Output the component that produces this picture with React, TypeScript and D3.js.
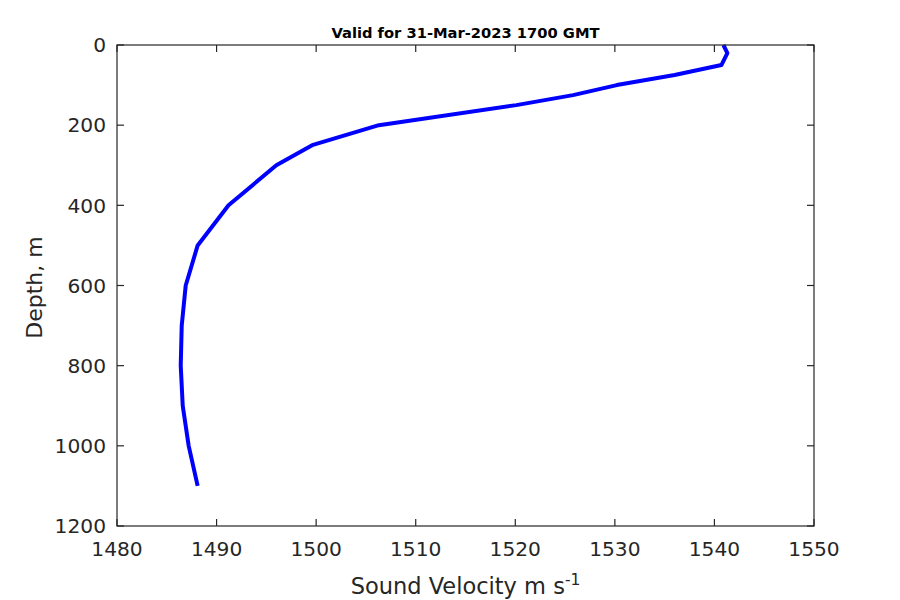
import React from "react";
import * as d3 from "d3";

const depths = [0, 20, 50, 75, 100, 125, 150, 200, 250, 300, 400, 500, 600, 700, 800, 900, 1000, 1100];
const velocities = [1540.9, 1541.3, 1540.7, 1536.0, 1530.2, 1525.8, 1520.1, 1506.3, 1499.6, 1496.0, 1491.2, 1488.1, 1486.9, 1486.5, 1486.4, 1486.6, 1487.2, 1488.1];
const xTicks = [1480, 1490, 1500, 1510, 1520, 1530, 1540, 1550];
const yTicks = [0, 200, 400, 600, 800, 1000, 1200];
const title = "Valid for 31-Mar-2023 1700 GMT";

export default function App() {
  const W = 900, H = 600;
  const L = 117, R = 814, T = 45, B = 526;
  const x = d3.scaleLinear().domain([1480, 1550]).range([L, R]);
  const y = d3.scaleLinear().domain([0, 1200]).range([T, B]);
  const pts = depths.map((d, i) => [velocities[i], d] as [number, number]);
  const line = d3.line<[number, number]>().x(p => x(p[0])).y(p => y(p[1]));
  const ax = "#262626";
  const tl = 7;
  const font = "DejaVu Sans, sans-serif";
  return (
    <svg width={W} height={H} style={{ position: "absolute", left: 0, top: 0, background: "#fff" }} fontFamily={font}>
      <rect x={0} y={0} width={W} height={H} fill="#fff" />
      <path d={line(pts) || ""} fill="none" stroke="#0000ff" strokeWidth={4} strokeLinejoin="round" />
      <rect x={L} y={T} width={R - L} height={B - T} fill="none" stroke={ax} strokeWidth={1.2} />
      {xTicks.map(t => (
        <g key={"x" + t}>
          <line x1={x(t)} x2={x(t)} y1={B} y2={B - tl} stroke={ax} strokeWidth={1.2} />
          <line x1={x(t)} x2={x(t)} y1={T} y2={T + tl} stroke={ax} strokeWidth={1.2} />
          <text x={x(t)} y={556} textAnchor="middle" fontSize={20.2} fill={ax}>{t}</text>
        </g>
      ))}
      {yTicks.map(t => (
        <g key={"y" + t}>
          <line x1={L} x2={L + tl} y1={y(t)} y2={y(t)} stroke={ax} strokeWidth={1.2} />
          <line x1={R} x2={R - tl} y1={y(t)} y2={y(t)} stroke={ax} strokeWidth={1.2} />
          <text x={106} y={y(t)} dy="0.36em" textAnchor="end" fontSize={20.2} fill={ax}>{t}</text>
        </g>
      ))}
      <text x={(L + R) / 2} y={38} textAnchor="middle" fontSize={14.7} fontWeight="bold" fill="#000">{title}</text>
      <text x={(L + R) / 2} y={594} textAnchor="middle" fontSize={22.5} fill={ax}>
        Sound Velocity m s<tspan dy={-9} fontSize={15.5}>-1</tspan>
      </text>
      <text transform={`translate(42,${(T + B) / 2 + 2}) rotate(-90)`} textAnchor="middle" fontSize={22} fill={ax}>Depth, m</text>
    </svg>
  );
}
